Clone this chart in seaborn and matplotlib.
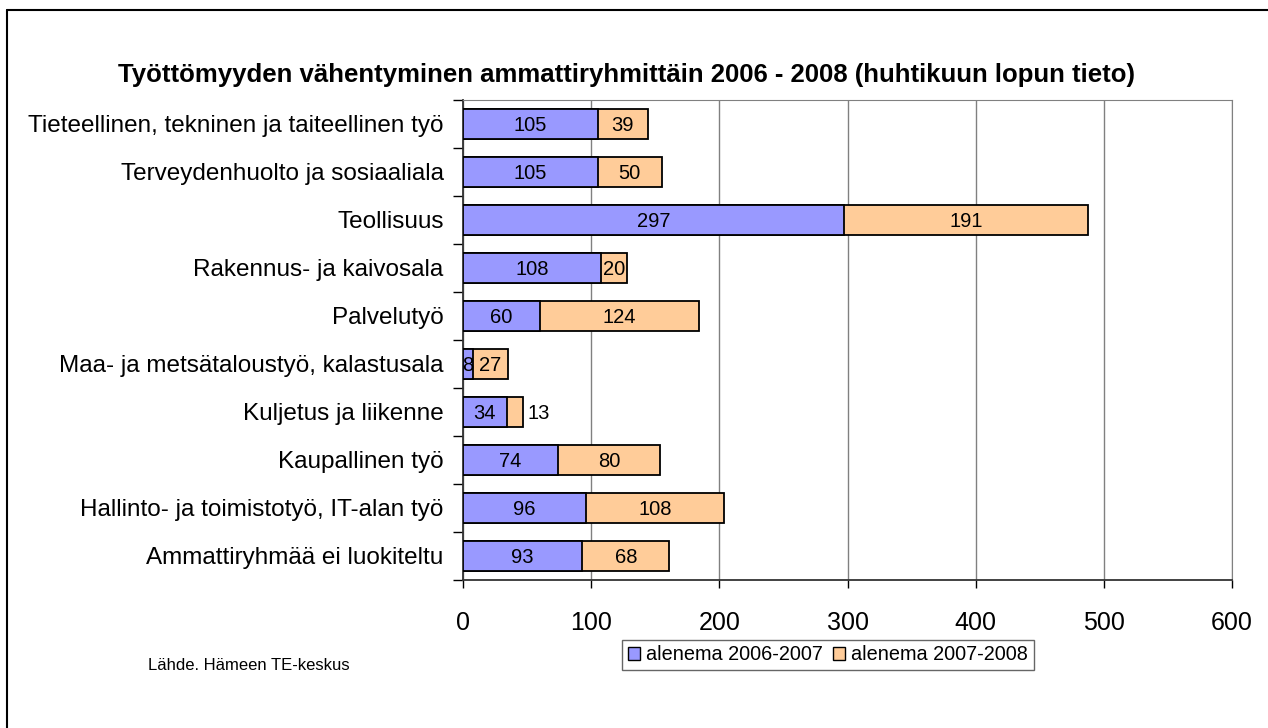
import warnings
warnings.filterwarnings("ignore")

import pandas as pd
import matplotlib
matplotlib.use("Agg")
import matplotlib.pyplot as plt
from matplotlib.patches import Patch
from matplotlib.ticker import FixedLocator
import seaborn as sns

categories = [
    "Tieteellinen, tekninen ja taiteellinen työ",
    "Terveydenhuolto ja sosiaaliala",
    "Teollisuus",
    "Rakennus- ja kaivosala",
    "Palvelutyö",
    "Maa- ja metsätaloustyö, kalastusala",
    "Kuljetus ja liikenne",
    "Kaupallinen työ",
    "Hallinto- ja toimistotyö, IT-alan työ",
    "Ammattiryhmää ei luokiteltu",
]
drop_0607 = [105, 105, 297, 108, 60, 8, 34, 74, 96, 93]
drop_0708 = [39, 50, 191, 20, 124, 27, 13, 80, 108, 68]
series_names = ["alenema 2006-2007", "alenema 2007-2008"]
x_ticks = [0, 100, 200, 300, 400, 500, 600]

blue = "#9999FF"
orange = "#FFCC99"

df = pd.DataFrame({"cat": categories, "a": drop_0607, "b": drop_0708})
df["total"] = df["a"] + df["b"]

sns.set_style("white")
plt.rcParams["font.family"] = ["Liberation Sans", "DejaVu Sans"]
plt.rcParams["text.color"] = "black"
plt.rcParams["xtick.color"] = "black"
plt.rcParams["ytick.color"] = "black"
plt.rcParams["axes.labelcolor"] = "black"

fig = plt.figure(figsize=(12.68, 7.28), dpi=100)
ax = fig.add_axes([463 / 1268, 1 - 580 / 728, (1232 - 463) / 1268, 480 / 728])

# stacked: total in orange first, first period in blue on top
sns.barplot(data=df, y="cat", x="total", color=orange, orient="h", width=0.64,
            edgecolor="black", linewidth=1.3, saturation=1, ax=ax, zorder=3)
sns.barplot(data=df, y="cat", x="a", color=blue, orient="h", width=0.64,
            edgecolor="black", linewidth=1.3, saturation=1, ax=ax, zorder=4)

ax.set_xlim(0, 600)
ax.set_ylim(len(categories) - 0.5, -0.5)
ax.set_xticks(x_ticks)
ax.set_xticklabels([str(t) for t in x_ticks], fontsize=18)
ax.set_xlabel("")
ax.set_ylabel("")
ax.tick_params(axis="x", direction="out", length=6, width=1, color="black",
               pad=16, bottom=True)
ax.tick_params(axis="y", which="major", length=0, pad=14, labelsize=17.5)
ax.yaxis.set_minor_locator(FixedLocator([i - 0.5 for i in range(len(categories) + 1)]))
ax.tick_params(axis="y", which="minor", direction="out", length=7, width=1,
               color="black", left=True)
ax.grid(axis="x", color="#808080", linewidth=1, zorder=0)
ax.set_axisbelow(True)
for side in ["top", "right"]:
    ax.spines[side].set_color("#808080")
for side in ["left", "bottom"]:
    ax.spines[side].set_color("#333333")
    ax.spines[side].set_linewidth(1.3)

# value labels
for i, row in df.iterrows():
    ax.text(row["a"] / 2, i, str(row["a"]), ha="center", va="center_baseline",
            fontsize=14.5, zorder=5)
    if row["b"] >= 15:
        ax.text(row["a"] + row["b"] / 2, i, str(row["b"]), ha="center",
                va="center_baseline", fontsize=14.5, zorder=5)
    else:
        ax.text(row["total"] + 3, i, str(row["b"]), ha="left",
                va="center_baseline", fontsize=14.5, zorder=5)

fig.text(627 / 1268, 1 - 75 / 728,
         "Työttömyyden vähentyminen ammattiryhmittäin 2006 - 2008 (huhtikuun lopun tieto)",
         ha="center", va="center", fontsize=18.5, fontweight="bold")
fig.text(148 / 1268, 1 - 666 / 728, "Lähde. Hämeen TE-keskus",
         ha="left", va="center", fontsize=12)

handles = [Patch(facecolor=blue, edgecolor="black", label=series_names[0]),
           Patch(facecolor=orange, edgecolor="black", label=series_names[1])]
fig.legend(handles=handles, loc="center", bbox_to_anchor=(828 / 1268, 1 - 655 / 728),
           ncol=2, frameon=True, fancybox=False, edgecolor="#404040",
           fontsize=14.3, handlelength=0.6, handleheight=0.6, handletextpad=0.3,
           columnspacing=0.5, borderpad=0.3, borderaxespad=0)

# outer chart border (left and top visible)
fig.add_artist(plt.Line2D([7 / 1268, 7 / 1268], [0, 1 - 10 / 728],
                          color="black", linewidth=1.5, transform=fig.transFigure))
fig.add_artist(plt.Line2D([7 / 1268, 1], [1 - 10 / 728, 1 - 10 / 728],
                          color="black", linewidth=1.5, transform=fig.transFigure))

fig.savefig("out.png", dpi=100)
plt.close(fig)
